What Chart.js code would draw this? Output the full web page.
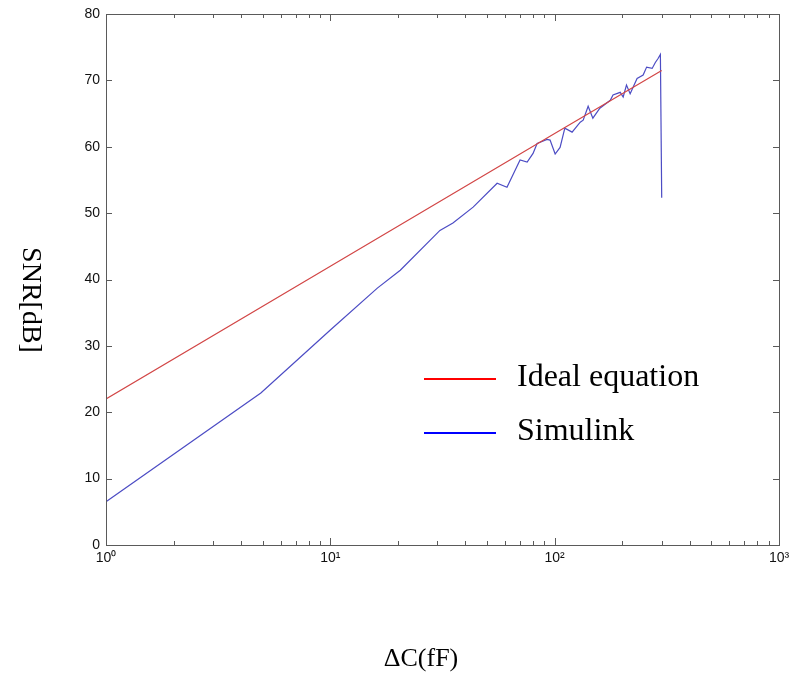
<!DOCTYPE html>
<html>
<head>
<meta charset="utf-8">
<script src="https://cdn.jsdelivr.net/npm/chart.js@4.4.1/dist/chart.umd.min.js"></script>
<style>
  html, body { margin: 0; padding: 0; background: #fff; }
  #wrap { width: 790px; height: 679px; }
</style>
</head>
<body>
<div id="wrap"><canvas id="chart" width="790" height="679"></canvas></div>
<script>
// Ideal equation (red)
const idealX = [1, 10, 100, 300];
const idealY = [22, 42, 62, 71.5];

// Simulink result (blue)
const simX = [1, 4.9, 10, 16.2, 20.5, 30.8, 35.2, 43.3, 55.4, 61.3, 70.1, 75.4, 80.1, 83.5, 92.5, 95.4,
              100.5, 105.7, 111, 119.6, 130, 134, 141, 148, 159, 177, 182, 196, 202, 209, 217, 233,
              248, 257, 272, 281, 289, 296, 300];
const simY = [6.5, 22.9, 32.4, 38.7, 41.4, 47.4, 48.5, 50.9, 54.5, 53.9, 58.0, 57.7, 59.0, 60.5, 61.1, 61.0,
              58.9, 59.9, 62.8, 62.2, 63.7, 64.0, 66.1, 64.3, 65.8, 67.0, 67.8, 68.2, 67.5, 69.3, 68.0, 70.3,
              70.8, 72.0, 71.8, 72.7, 73.3, 73.9, 52.3];

const seriesNames = ["Ideal equation", "Simulink"];
const xTickValues = [1, 10, 100, 1000];
const xTickLabels = ["10\u2070", "10\u00b9", "10\u00b2", "10\u00b3"];
const yTickValues = [0, 10, 20, 30, 40, 50, 60, 70, 80];

const toPoints = (xs, ys) => xs.map((x, i) => ({ x: x, y: ys[i] }));

// MATLAB-style box with inward ticks, titles and in-plot legend
const matlabFrame = {
    id: "matlabFrame",
    afterDraw(chart) {
        const ctx = chart.ctx;
        const a = chart.chartArea;
        const xs = chart.scales.x;
        const ys = chart.scales.y;
        ctx.save();
        ctx.strokeStyle = "#5a5a5a";
        ctx.lineWidth = 1;
        ctx.strokeRect(Math.round(a.left) + 0.5, Math.round(a.top) + 0.5,
            Math.round(a.right - a.left), Math.round(a.bottom - a.top));

        ctx.beginPath();
        for (let d = 1; d <= 1000; d *= 10) {
            for (let m = 1; m < 10; m++) {
                const v = d * m;
                if (v > 1000) break;
                const px = Math.round(xs.getPixelForValue(v)) + 0.5;
                const len = m === 1 ? 7 : 4;
                ctx.moveTo(px, a.bottom);
                ctx.lineTo(px, a.bottom - len);
                ctx.moveTo(px, a.top);
                ctx.lineTo(px, a.top + len);
            }
        }
        yTickValues.forEach(v => {
            const py = Math.round(ys.getPixelForValue(v)) + 0.5;
            ctx.moveTo(a.left, py);
            ctx.lineTo(a.left + 6, py);
            ctx.moveTo(a.right, py);
            ctx.lineTo(a.right - 6, py);
        });
        ctx.stroke();

        // axis titles
        ctx.fillStyle = "#000";
        ctx.font = "26px 'Liberation Serif', 'Times New Roman', serif";
        ctx.textAlign = "center";
        ctx.textBaseline = "middle";
        ctx.fillText("\u0394C(fF)", 421, 659);
        ctx.font = "28px 'Liberation Serif', 'Times New Roman', serif";
        ctx.translate(30, 300);
        ctx.rotate(Math.PI / 2);
        ctx.fillText("SNR[dB]", 0, 0);
        ctx.restore();

        // legend
        ctx.save();
        const legendColors = ["#ff0000", "#0000ff"];
        const legendRows = [379, 433];
        ctx.font = "32px 'Liberation Serif', 'Times New Roman', serif";
        ctx.textBaseline = "middle";
        ctx.textAlign = "left";
        ctx.fillStyle = "#000";
        ctx.lineWidth = 2;
        seriesNames.forEach((name, i) => {
            ctx.strokeStyle = legendColors[i];
            ctx.beginPath();
            ctx.moveTo(424, legendRows[i]);
            ctx.lineTo(496, legendRows[i]);
            ctx.stroke();
            ctx.fillText(name, 517, legendRows[i] - 1);
        });
        ctx.restore();
    }
};

const ctx = document.getElementById("chart").getContext("2d");

new Chart(ctx, {
    type: "line",
    data: {
        datasets: [
            {
                label: seriesNames[0],
                data: toPoints(idealX, idealY),
                borderColor: "#d24646",
                borderWidth: 1.2,
                pointRadius: 0,
                tension: 0
            },
            {
                label: seriesNames[1],
                data: toPoints(simX, simY),
                borderColor: "#4c4cc4",
                borderWidth: 1.2,
                pointRadius: 0,
                tension: 0
            }
        ]
    },
    options: {
        responsive: false,
        animation: false,
        layout: { padding: { left: 0, right: 11, top: 14, bottom: 0 } },
        plugins: {
            legend: { display: false },
            tooltip: { enabled: false }
        },
        scales: {
            x: {
                type: "logarithmic",
                min: 1,
                max: 1000,
                afterBuildTicks: scale => {
                    scale.ticks = xTickValues.map(v => ({ value: v }));
                },
                afterFit: scale => {
                    scale.height = 134;
                    scale.paddingLeft = 0;
                    scale.paddingRight = 0;
                },
                grid: { display: false, drawTicks: false },
                border: { display: false },
                ticks: {
                    color: "#111",
                    padding: 5,
                    maxRotation: 0,
                    font: { family: "'Liberation Sans', Arial, sans-serif", size: 14 },
                    callback: (v) => xTickLabels[xTickValues.indexOf(v)]
                }
            },
            y: {
                min: 0,
                max: 80,
                afterBuildTicks: scale => {
                    scale.ticks = yTickValues.map(v => ({ value: v }));
                },
                afterFit: scale => {
                    scale.width = 106;
                    scale.paddingTop = 0;
                    scale.paddingBottom = 0;
                },
                grid: { display: false, drawTicks: false },
                border: { display: false },
                ticks: {
                    color: "#111",
                    padding: 6,
                    font: { family: "'Liberation Sans', Arial, sans-serif", size: 14 }
                }
            }
        }
    },
    plugins: [matlabFrame]
});
</script>
</body>
</html>
